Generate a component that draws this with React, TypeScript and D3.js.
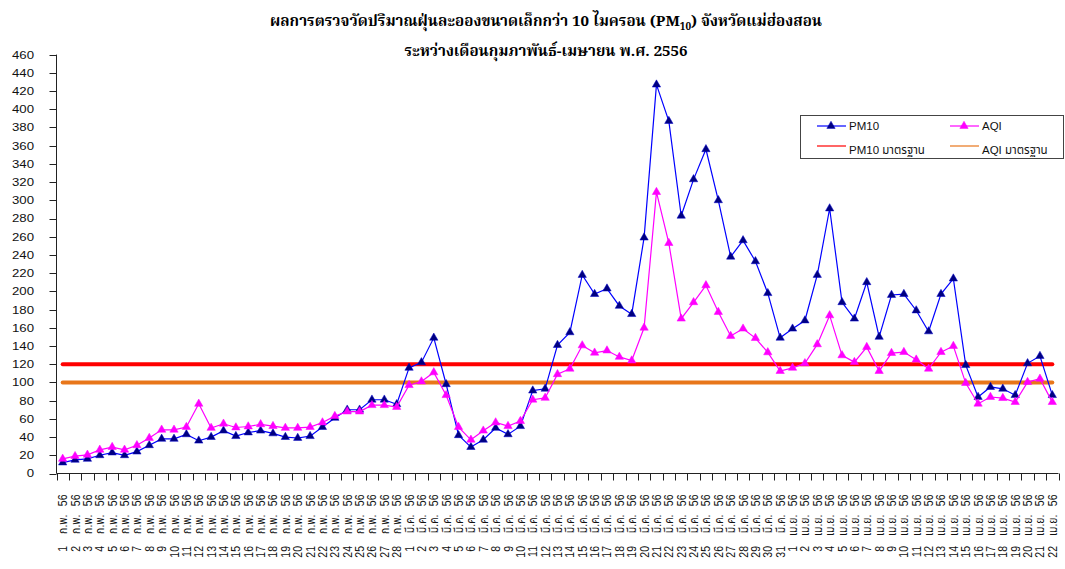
import React from "react";
import * as d3 from "d3";

const monthAbbr = ["ก.พ.", "มี.ค.", "เม.ย."];
const monthDays = [28, 31, 22];
const yearLabel = "56";

const categories: { day: string; month: string; year: string }[] = [];
monthAbbr.forEach((m, mi) => {
  for (let d = 1; d <= monthDays[mi]; d++) categories.push({ day: String(d), month: m, year: yearLabel });
});

const pm10 = [
  12, 15, 16, 20, 23, 20, 24, 31, 38, 38, 43, 36, 40, 47, 41, 45, 47, 44, 40, 39, 41, 51, 61, 70, 70, 81, 81, 76,
  116, 122, 149, 98, 42, 29, 37, 50, 43, 52, 91, 93, 141, 155, 218, 197, 203, 184, 175, 259, 427, 387, 283, 323, 356, 300, 238, 256, 233, 198, 149,
  159, 168, 218, 291, 188, 170, 210, 150, 196, 197, 179, 156, 197, 214, 119, 84, 95, 93, 86, 121, 129, 86,
];

const aqi = [
  16, 19, 20.5, 26, 29, 26, 31, 39, 48, 48, 51, 76.5, 50, 54.6, 50.5, 51.6, 54, 52, 50, 50, 51, 56, 63, 68, 68, 75, 75, 73,
  97, 101, 111, 86, 51, 37, 47, 56, 52, 57.5, 81, 83, 109, 115, 140.6, 132.6, 135, 128, 124, 160, 309, 253, 170, 188, 206.6, 177.3, 151, 159, 148.7, 133, 112.5,
  116, 121, 141.8, 173.6, 129.7, 122.3, 138.8, 112.5, 132.2, 133.3, 125, 115, 133.3, 140, 99.3, 76.6, 84, 82.8, 78.4, 100.4, 104, 78.4,
];

const pm10Standard = 120;
const aqiStandard = 100;
const yTicks = d3.range(0, 461, 20);

const seriesNames = ["PM10", "AQI", "PM10 มาตรฐาน", "AQI มาตรฐาน"];
const titleLine1a = "ผลการตรวจวัดปริมาณฝุ่นละอองขนาดเล็กกว่า 10 ไมครอน (PM";
const titleSub = "10";
const titleLine1b = ") จังหวัดแม่ฮ่องสอน";
const titleLine2 = "ระหว่างเดือนกุมภาพันธ์-เมษายน พ.ศ. 2556";

const W = 1065;
const H = 569;
const thaiSerif = "'Noto Serif Thai','Noto Sans Thai',Norasi,Garuda,'Liberation Serif',serif";
const sans = "'Liberation Sans',Arial,'Noto Sans Thai',Garuda,sans-serif";

export default function App() {
  const x = d3.scaleBand<number>().domain(d3.range(categories.length)).range([56.5, 1058.5]).padding(0);
  const y = d3.scaleLinear().domain([0, 460]).range([473.5, 54.6]);
  const cx = (i: number) => (x(i) as number) + x.bandwidth() / 2;
  const line = d3.line<number>().x((_, i) => cx(i)).y((v) => y(v));
  const tri = d3.symbol().type(d3.symbolTriangle).size(30)() as string;
  const firstX = cx(0);
  const lastX = cx(categories.length - 1);
  const boundaries = d3.range(categories.length + 1).map((i) => 56.5 + i * x.bandwidth());

  return (
    <svg width={W} height={H} style={{ position: "absolute", left: 0, top: 0, background: "#fff" }}>
      <rect width={W} height={H} fill="#fff" />
      {/* title */}
      <text x={546} y={26} textAnchor="middle" fontFamily={thaiSerif} fontWeight="bold" fontSize={15}
        textLength={552} lengthAdjust="spacingAndGlyphs">
        {titleLine1a}
        <tspan fontSize={10} dy={4}>{titleSub}</tspan>
        <tspan dy={-4}>{titleLine1b}</tspan>
      </text>
      <text x={546} y={56} textAnchor="middle" fontFamily={thaiSerif} fontWeight="bold" fontSize={15}
        textLength={283} lengthAdjust="spacingAndGlyphs">
        {titleLine2}
      </text>

      {/* y axis */}
      <line x1={56.5} x2={56.5} y1={y(460)} y2={y(0)} stroke="#222" strokeWidth={1} />
      {yTicks.map((t) => (
        <g key={t}>
          <line x1={49.5} x2={56.5} y1={Math.round(y(t)) + 0.5} y2={Math.round(y(t)) + 0.5} stroke="#222" />
          <text transform={`translate(34,${y(t)}) scale(1.2,1)`} textAnchor="end" dy="0.36em"
            fontFamily={sans} fontSize={11} fill="#111">{t}</text>
        </g>
      ))}

      {/* x axis */}
      <line x1={56.5} x2={1058.5} y1={473.5} y2={473.5} stroke="#222" />
      {boundaries.map((bx, i) => (
        <line key={i} x1={Math.round(bx) + 0.5} x2={Math.round(bx) + 0.5} y1={473.5} y2={480.5} stroke="#222" />
      ))}
      {categories.map((c, i) => (
        <text key={i} transform={`translate(${cx(i) + 4.5},494.5) scale(1.2,1) rotate(-90)`}
          fontFamily={sans} fontSize={10.5} fill="#111" textAnchor="end">
          <tspan x={0}>{c.year}</tspan>
          <tspan x={-20}>{c.month}</tspan>
          <tspan x={-51.5}>{c.day}</tspan>
        </text>
      ))}

      {/* standard lines */}
      <line x1={firstX} x2={lastX} y1={y(pm10Standard)} y2={y(pm10Standard)} stroke="#FF0000" strokeWidth={4} strokeLinecap="round" />
      <line x1={firstX} x2={lastX} y1={y(aqiStandard)} y2={y(aqiStandard)} stroke="#E8761A" strokeWidth={4} strokeLinecap="round" />

      {/* PM10 */}
      <path d={line(pm10) as string} fill="none" stroke="#0000FF" strokeWidth={1.2} />
      {pm10.map((v, i) => (
        <path key={i} d={tri} transform={`translate(${cx(i)},${y(v)})`} fill="#000080" stroke="#0000CC" strokeWidth={0.5} />
      ))}
      {/* AQI */}
      <path d={line(aqi) as string} fill="none" stroke="#FF00FF" strokeWidth={1.2} />
      {aqi.map((v, i) => (
        <path key={i} d={tri} transform={`translate(${cx(i)},${y(v)})`} fill="#FF00FF" stroke="#FF00FF" strokeWidth={0.5} />
      ))}

      {/* legend */}
      <rect x={800.5} y={115.5} width={263} height={43} fill="#fff" stroke="#444" strokeWidth={1} />
      <line x1={817} x2={846} y1={126} y2={126} stroke="#0000FF" strokeWidth={1.2} />
      <path d={tri} transform="translate(831,126)" fill="#000080" stroke="#0000CC" strokeWidth={0.5} />
      <text x={849} y={126} dy="0.36em" fontFamily={sans} fontSize={11.5} fill="#111">{seriesNames[0]}</text>
      <line x1={950} x2={979} y1={126} y2={126} stroke="#FF00FF" strokeWidth={1.2} />
      <path d={tri} transform="translate(964,126)" fill="#FF00FF" stroke="#FF00FF" strokeWidth={0.5} />
      <text x={982} y={126} dy="0.36em" fontFamily={sans} fontSize={11.5} fill="#111">{seriesNames[1]}</text>
      <line x1={817} x2={846} y1={146} y2={146} stroke="#FF0000" strokeWidth={1.2} />
      <text x={849} y={150} dy="0.36em" fontFamily={sans} fontSize={11.5} fill="#111">{seriesNames[2]}</text>
      <line x1={950} x2={979} y1={146} y2={146} stroke="#E8761A" strokeWidth={1.2} />
      <text x={982} y={150} dy="0.36em" fontFamily={sans} fontSize={11.5} fill="#111">{seriesNames[3]}</text>
    </svg>
  );
}
